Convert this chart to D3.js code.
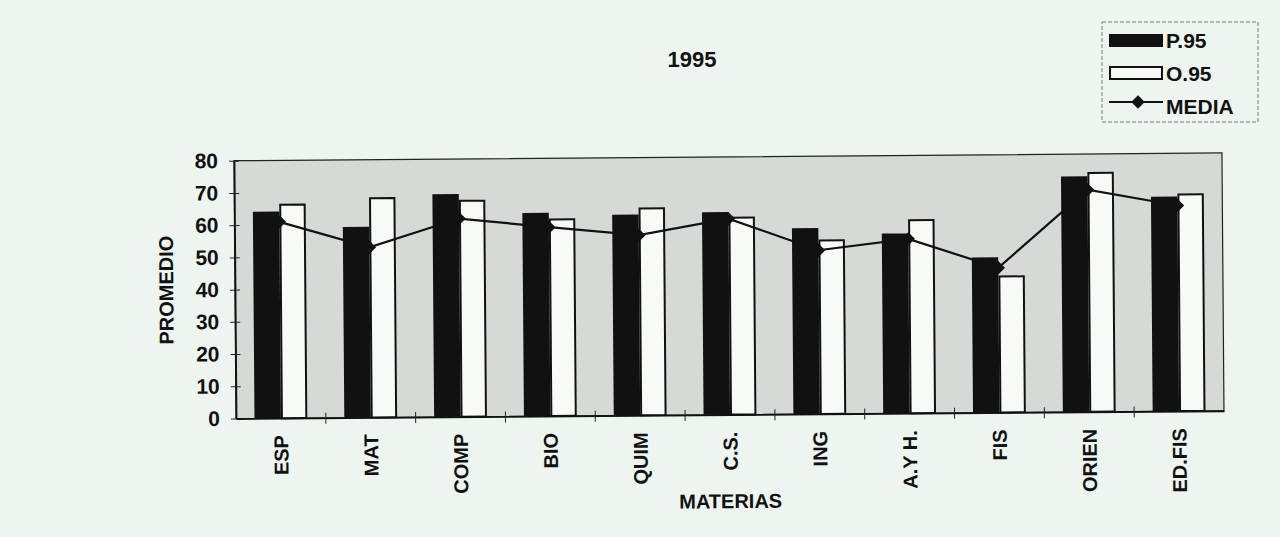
<!DOCTYPE html>
<html>
<head>
<meta charset="utf-8">
<script src="https://cdn.jsdelivr.net/npm/d3@7"></script>
<style>
  body { margin: 0; background: #eef5f0; }
  svg { display: block; font-family: "Liberation Sans", Arial, sans-serif; font-weight: bold; }
</style>
</head>
<body>
<svg width="1280" height="537"></svg>
<script>
// datos
var materias = ["ESP", "MAT", "COMP", "BIO", "QUIM", "C.S.", "ING", "A.Y H.", "FIS", "ORIEN", "ED.FIS"];
var p95 = [64.1, 59.2, 69.1, 63.1, 62.3, 62.9, 57.7, 55.8, 48.2, 73.1, 66.6];
var o95 = [66.2, 68.0, 67.0, 61.0, 64.2, 61.1, 53.8, 59.9, 42.2, 74.1, 67.2];
var media = [60.9, 52.8, 61.5, 58.6, 55.9, 60.8, 50.8, 54.1, 44.9, 68.9, 63.8];
var yTicks = [0, 10, 20, 30, 40, 50, 60, 70, 80];
var series = ["P.95", "O.95"];

// (window.top is reserved, so use other names)
var pLeft = 236, pRight = 1224, pTop = 160.7, pBottom = 418.5;

var svg = d3.select("svg");

var x0 = d3.scaleBand().domain(materias).range([pLeft, pRight]);
var x1 = d3.scaleBand().domain(series).range([0, x0.bandwidth()]).paddingOuter(0.7);
var y = d3.scaleLinear().domain([0, 80]).range([pBottom, pTop]);

// the scan is slightly tilted
var chart = svg.append("g")
  .attr("transform", "rotate(-0.45," + pLeft + "," + pBottom + ")");

chart.append("rect")
  .attr("x", pLeft).attr("y", pTop)
  .attr("width", pRight - pLeft).attr("height", pBottom - pTop)
  .attr("fill", "#d6dad7")
  .attr("stroke", "#222").attr("stroke-width", 1.2);

var groups = chart.selectAll(".grp")
  .data(materias)
  .enter().append("g")
  .attr("class", "grp")
  .attr("transform", function (d) { return "translate(" + x0(d) + ",0)"; });

groups.append("rect")
  .attr("x", x1("P.95"))
  .attr("y", function (d, i) { return y(p95[i]); })
  .attr("width", x1.bandwidth())
  .attr("height", function (d, i) { return y(0) - y(p95[i]); })
  .attr("fill", "#111");

groups.append("rect")
  .attr("x", x1("O.95") + 1)
  .attr("y", function (d, i) { return y(o95[i]); })
  .attr("width", x1.bandwidth() - 2)
  .attr("height", function (d, i) { return y(0) - y(o95[i]); })
  .attr("fill", "#f6fbf7")
  .attr("stroke", "#111").attr("stroke-width", 2);

var line = d3.line()
  .x(function (d, i) { return x0(materias[i]) + x0.bandwidth() / 2; })
  .y(function (d) { return y(d); });

chart.append("path")
  .datum(media)
  .attr("d", line)
  .attr("fill", "none")
  .attr("stroke", "#111").attr("stroke-width", 2.2);

// rombo: cuadrado girado 45 grados
var diamond = d3.symbol().type(d3.symbolSquare).size(90);
chart.selectAll(".pt")
  .data(media)
  .enter().append("path")
  .attr("class", "pt")
  .attr("d", diamond)
  .attr("transform", function (d, i) {
    return "translate(" + (x0(materias[i]) + x0.bandwidth() / 2) + "," + y(d) + ") rotate(45)";
  })
  .attr("fill", "#111");

// eje y
var yAxis = d3.axisLeft(y).tickValues(yTicks).tickSizeInner(5).tickSizeOuter(0).tickPadding(11);
var gy = chart.append("g")
  .attr("transform", "translate(" + pLeft + ",0)")
  .call(yAxis);
gy.select(".domain").attr("stroke", "#111").attr("stroke-width", 1.8);
gy.selectAll(".tick line").attr("x1", -5).attr("x2", 5).attr("stroke", "#222");
gy.selectAll("text")
  .attr("font-size", 21).attr("font-family", "Liberation Sans, Arial, sans-serif")
  .attr("font-weight", "bold").attr("fill", "#111");

// eje x
var xAxis = d3.axisBottom(x0).tickSize(0).tickFormat("");
var gx = chart.append("g")
  .attr("transform", "translate(0," + pBottom + ")")
  .call(xAxis);
gx.select(".domain").attr("stroke", "#111").attr("stroke-width", 1.8);
gx.selectAll(".sep")
  .data(materias.slice(1))
  .enter().append("line")
  .attr("class", "sep")
  .attr("x1", function (d) { return x0(d); })
  .attr("x2", function (d) { return x0(d); })
  .attr("y1", -5).attr("y2", 6)
  .attr("stroke", "#222");

chart.selectAll(".cat")
  .data(materias)
  .enter().append("text")
  .attr("class", "cat")
  .attr("transform", function (d) {
    return "translate(" + (x0(d) + x0.bandwidth() / 2) + "," + (pBottom + 17) + ") rotate(-90)";
  })
  .attr("text-anchor", "end")
  .attr("dy", "0.36em")
  .attr("font-size", 20)
  .attr("fill", "#111")
  .text(function (d) { return d; });

chart.append("text")
  .attr("transform", "translate(167," + ((pTop + pBottom) / 2) + ") rotate(-90)")
  .attr("text-anchor", "middle")
  .attr("dy", "0.36em")
  .attr("font-size", 20)
  .attr("fill", "#111")
  .text("PROMEDIO");

chart.append("text")
  .attr("x", (pLeft + pRight) / 2)
  .attr("y", 512)
  .attr("text-anchor", "middle")
  .attr("font-size", 20)
  .attr("fill", "#111")
  .text("MATERIAS");

svg.append("text")
  .attr("x", 692).attr("y", 67)
  .attr("text-anchor", "middle")
  .attr("font-size", 22)
  .attr("fill", "#111")
  .text("1995");

// leyenda
var lg = svg.append("g").attr("transform", "translate(1102,22)");
lg.append("rect")
  .attr("x", 0).attr("y", 0).attr("width", 156).attr("height", 100)
  .attr("fill", "none").attr("stroke", "#777").attr("stroke-width", 1)
  .attr("stroke-dasharray", "4,2");
lg.append("rect").attr("x", 7).attr("y", 12).attr("width", 54).attr("height", 13).attr("fill", "#111");
lg.append("rect").attr("x", 8).attr("y", 45).attr("width", 52).attr("height", 12)
  .attr("fill", "#f6fbf7").attr("stroke", "#111").attr("stroke-width", 2);
lg.append("line").attr("x1", 7).attr("x2", 61).attr("y1", 80).attr("y2", 80)
  .attr("stroke", "#111").attr("stroke-width", 2.2);
lg.append("path").attr("d", diamond).attr("transform", "translate(36,80) rotate(45)").attr("fill", "#111");
var labels = ["P.95", "O.95", "MEDIA"];
lg.selectAll(".lt")
  .data(labels)
  .enter().append("text")
  .attr("class", "lt")
  .attr("x", 64)
  .attr("y", function (d, i) { return 26 + i * 33; })
  .attr("font-size", 21)
  .attr("fill", "#111")
  .text(function (d) { return d; });
</script>
</body>
</html>
